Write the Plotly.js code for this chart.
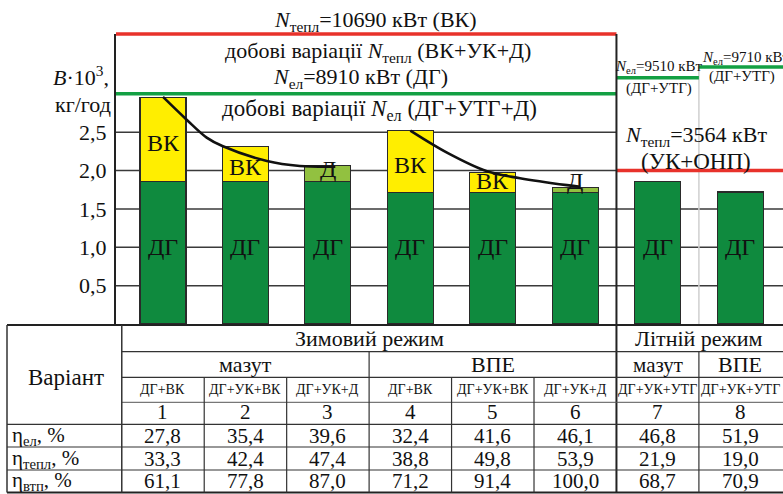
<!DOCTYPE html>
<html><head><meta charset="utf-8">
<script src="https://cdn.plot.ly/plotly-3.0.1.min.js"></script>
<style>html,body{margin:0;padding:0;background:#fff}#chart{width:783px;height:494px}</style>
</head><body><div id="chart"></div>
<script>
// ---------------- data ----------------
const variants   = [1, 2, 3, 4, 5, 6, 7, 8];
const dgValues   = [1.86, 1.86, 1.86, 1.71, 1.71, 1.71, 1.86, 1.72];
const vkValues   = [1.09, 0.45, null, 0.81, 0.26, null, null, null];
const dValues    = [null, null, 0.21, null, null, 0.07, null, null];
const curve1X    = [1.0, 1.29, 1.53, 1.72, 2.26, 2.66, 3.09];
const curve1Y    = [2.96, 2.66, 2.43, 2.32, 2.125, 2.06, 2.05];
const curve2X    = [4.0, 4.45, 4.93, 5.33, 5.9, 6.06];
const curve2Y    = [2.52, 2.23, 1.99, 1.90, 1.81, 1.79];
const yTickVals  = [0.5, 1.0, 1.5, 2.0, 2.5];
const yTickText  = ['0,5', '1,0', '1,5', '2,0', '2,5'];
const winterTeplLevel = 3.78;   // N_тепл = 10690 кВт
const winterElLevel   = 3.0;    // N_ел = 8910 кВт
const summerElLevels  = [3.21, 3.35]; // N_ел = 9510 / 9710 кВт
const summerTeplLevel = 2.0;    // N_тепл = 3564 кВт
const regimes    = ['Зимовий режим', 'Літній режим'];
const fuels      = ['мазут', 'ВПЕ', 'мазут', 'ВПЕ'];
const schemes    = ['ДГ+ВК', 'ДГ+УК+ВК', 'ДГ+УК+Д', 'ДГ+ВК', 'ДГ+УК+ВК', 'ДГ+УК+Д', 'ДГ+УК+УТГ', 'ДГ+УК+УТГ'];
const etaEl      = [27.8, 35.4, 39.6, 32.4, 41.6, 46.1, 46.8, 51.9];
const etaTepl    = [33.3, 42.4, 47.4, 38.8, 49.8, 53.9, 21.9, 19.0];
const etaVtp     = [61.1, 77.8, 87.0, 71.2, 91.4, 100.0, 68.7, 70.9];
const rowLabels  = ['η<sub>ел</sub>, %', 'η<sub>тепл</sub>, %', 'η<sub>втп</sub>, %'];

// ---------------- layout helpers ----------------
const W = 783, H = 494, ML = 116, MR = 0, MT = 34, MB = 170;
const X0 = 0.43, X1 = 8.52;
const PW = W - ML - MR, PH = H - MT - MB;
const pxX = p => (p - ML) / PW;              // pixel -> paper x
const pyY = p => (H - MB - p) / PH;          // pixel -> paper y
const dX  = v => (v - X0) / (X1 - X0);       // data x -> paper x
const FONT = '"Liberation Serif", "DejaVu Serif", serif';
const TXT = '#111';
const GREEN = '#0f8a3e', YELLOW = '#ffee00', LGREEN = '#92c140';
const RED = '#e8322b', LINEGREEN = '#13a043', GRID = '#3a3a3a';
const fmt = v => v.toFixed(1).replace('.', ',');

// ---------------- traces ----------------
const barLine = {color: '#2a2a2a', width: 1.2};
const traces = [
  {type: 'bar', x: variants, y: dgValues, width: 0.558, marker: {color: GREEN, line: barLine}, hoverinfo: 'none'},
  {type: 'bar', x: variants, y: vkValues, width: 0.558, marker: {color: YELLOW, line: barLine}, hoverinfo: 'none'},
  {type: 'bar', x: variants, y: dValues,  width: 0.558, marker: {color: LGREEN, line: barLine}, hoverinfo: 'none'},
  {type: 'scatter', mode: 'lines', x: curve1X, y: curve1Y, line: {color: '#111', width: 2.6, shape: 'spline', smoothing: 1}, hoverinfo: 'none'},
  {type: 'scatter', mode: 'lines', x: curve2X, y: curve2Y, line: {color: '#111', width: 2.6, shape: 'spline', smoothing: 1}, hoverinfo: 'none'}
];

// ---------------- shapes ----------------
const shapes = [];
const hline = (xref, x0, x1, yref, y, color, width, layer) =>
  shapes.push({type: 'line', xref, yref, x0, x1, y0: y, y1: y, line: {color, width}, layer: layer || 'above'});
const vline = (xref, x, yref, y0, y1, color, width, layer) =>
  shapes.push({type: 'line', xref, yref, x0: x, x1: x, y0, y1, line: {color, width}, layer: layer || 'above'});

yTickVals.forEach(v => hline('x', X0, v === 2.5 ? 6.5 : X1, 'y', v, GRID, 1.5, 'below'));
vline('x', 7.5, 'y', 0, summerElLevels[1], '#cfcfcf', 1.5, 'below');
hline('x', X0, 6.5, 'paper', 1, RED, 3.5);
hline('x', X0, 6.5, 'y', winterElLevel, LINEGREEN, 3.5);
hline('x', 6.5, 7.5, 'y', summerElLevels[0], LINEGREEN, 3.5);
hline('x', 7.5, X1, 'y', summerElLevels[1], LINEGREEN, 3.5);
hline('x', 6.5, X1, 'y', summerTeplLevel, RED, 3.5);

const tTop = 325, rA = 351.7, rB = 377.3, rC = 402.3, rD = 424.3, rE = 447, rF = 470, tBot = 492.5;
const tLeft = 7;
vline('paper', dX(6.5), 'paper', pyY(tBot), 1, '#222', 2);
hline('paper', pxX(tLeft), 1, 'paper', pyY(tTop), '#222', 2);
[rA, rB].forEach(r => hline('paper', dX(0.5), 1, 'paper', pyY(r), '#333', 1.2));
hline('paper', dX(0.5), 1, 'paper', pyY(rC), '#555', 1);
[rD, rE, rF].forEach(r => hline('paper', pxX(tLeft), 1, 'paper', pyY(r), '#333', 1.2));
hline('paper', pxX(tLeft), 1, 'paper', pyY(tBot), '#222', 2);
vline('paper', pxX(tLeft), 'paper', pyY(tTop), pyY(tBot), '#333', 1.5);
vline('paper', dX(0.5), 'paper', pyY(tTop), pyY(tBot), '#333', 1.5);
[3.5, 7.5].forEach(x => vline('paper', dX(x), 'paper', pyY(rA), pyY(tBot), '#333', 1.2));
[1.5, 2.5, 4.5, 5.5].forEach(x => vline('paper', dX(x), 'paper', pyY(rB), pyY(tBot), '#333', 1.2));

// ---------------- annotations ----------------
const ann = [];
const txt = (text, x, y, size, opts) => ann.push(Object.assign({
  text, x, y, xref: 'paper', yref: 'paper', showarrow: false,
  xanchor: 'center', yanchor: 'middle', font: {family: FONT, size, color: TXT}
}, opts || {}));

txt('<i>N</i><sub>тепл</sub>=10690 кВт (ВК)', pxX(375), pyY(21), 22);
txt('добові варіації <i>N</i><sub>тепл</sub> (ВК+УК+Д)', pxX(378), pyY(52), 22);
txt('<i>N</i><sub>ел</sub>=8910 кВт (ДГ)', pxX(360), pyY(78), 22);
txt('добові варіації <i>N</i><sub>ел</sub> (ДГ+УТГ+Д)', pxX(379), pyY(110), 23);
txt('<i>N</i><sub>ел</sub>=9510 кВт', pxX(658), pyY(67), 15);
txt('(ДГ+УТГ)', pxX(659), pyY(88), 15);
txt('<i>N</i><sub>ел</sub>=9710 кВт', pxX(700), pyY(58), 15, {xanchor: 'left'});
txt('(ДГ+УТГ)', pxX(742), pyY(77), 15);
txt('<i>N</i><sub>тепл</sub>=3564 кВт', pxX(696), pyY(136), 22);
txt('(УК+ОНП)', pxX(696), pyY(161), 23);
txt('<i>B</i>·10<sup>3</sup>,', pxX(111), pyY(76), 22, {xanchor: 'right'});
txt('кг/год', pxX(113), pyY(104), 22, {xanchor: 'right'});

variants.forEach((v, i) => {
  ann.push({text: 'ДГ', x: v, y: 1.0, xref: 'x', yref: 'y', showarrow: false,
    font: {family: FONT, size: 24, color: TXT}});
  const top = vkValues[i] != null ? vkValues[i] : dValues[i];
  if (top != null) {
    const yl = Math.max(dgValues[i] + top / 2 - 0.04, dgValues[i] + 0.16);
    ann.push({text: vkValues[i] != null ? 'ВК' : 'Д', x: v, y: yl, xref: 'x', yref: 'y', showarrow: false,
      font: {family: FONT, size: 24, color: TXT}});
  }
});

const mid = (a, b) => pyY((a + b) / 2);
txt('Варіант', pxX(66), mid(tTop, rD) - 0.01, 23);
txt(regimes[0], dX(3.5), mid(tTop, rA), 22);
txt(regimes[1], dX(7.5), mid(tTop, rA), 22);
txt(fuels[0], dX(2), mid(rA, rB), 22);
txt(fuels[1], dX(5), mid(rA, rB), 22);
txt(fuels[2], dX(7), mid(rA, rB), 21);
txt(fuels[3], dX(8), mid(rA, rB), 22);
variants.forEach((v, i) => {
  txt(schemes[i], dX(v), mid(rB, rC), 14);
  txt(String(v), dX(v), mid(rC, rD) + 0.004, 21);
  txt(fmt(etaEl[i]), dX(v), mid(rD, rE), 21);
  txt(fmt(etaTepl[i]), dX(v), mid(rE, rF), 21);
  txt(fmt(etaVtp[i]), dX(v), mid(rF, tBot), 21);
});
[[rD, rE], [rE, rF], [rF, tBot]].forEach((r, k) =>
  txt(rowLabels[k], pxX(10), mid(r[0], r[1]), 21, {xanchor: 'left'}));

const layout = {
  width: W, height: H,
  margin: {l: ML, r: MR, t: MT, b: MB, pad: 0},
  paper_bgcolor: '#fff', plot_bgcolor: '#fff',
  barmode: 'stack', showlegend: false,
  xaxis: {range: [X0, X1], showgrid: false, zeroline: false, showticklabels: false, ticks: '', showline: false, fixedrange: true},
  yaxis: {range: [0, winterTeplLevel], tickvals: yTickVals, ticktext: yTickText, showgrid: false, zeroline: false,
    showline: true, linecolor: '#222', linewidth: 2, ticks: '', ticklabelstandoff: 3,
    tickfont: {family: FONT, size: 22, color: TXT}, fixedrange: true},
  shapes, annotations: ann,
  font: {family: FONT, color: TXT}
};
Plotly.newPlot('chart', traces, layout, {staticPlot: true, displayModeBar: false});
</script>
</body></html>
